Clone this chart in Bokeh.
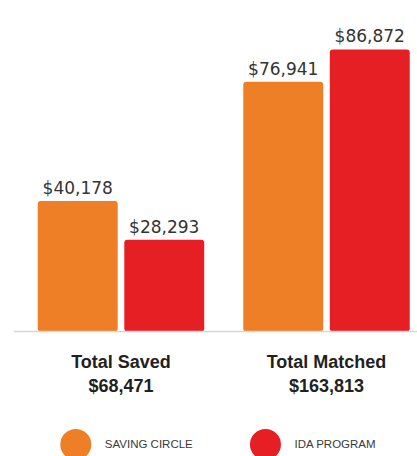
from bokeh.plotting import figure
from bokeh.models import Range1d, Span, ColumnDataSource
from bokeh.transform import dodge
from bokeh.core.properties import value
from bokeh.embed import file_html
from bokeh.resources import INLINE

# ---- data ----
categories = ["Total Saved", "Total Matched"]
totals = ["$68,471", "$163,813"]
saving_circle = [40178, 76941]
ida_program = [28293, 86872]
series_names = ["SAVING CIRCLE", "IDA PROGRAM"]
series_colors = ["#EE7F27", "#E61F25"]

def money(v):
    return "${:,}".format(v)

src = ColumnDataSource(dict(
    x=list(range(len(categories))),
    cat=categories,
    total=totals,
    saving=saving_circle,
    ida=ida_program,
    saving_lbl=[money(v) for v in saving_circle],
    ida_lbl=[money(v) for v in ida_program],
))

# scale: ~0.0032467 px per dollar, baseline at y 331
px_per_unit = 0.0032467
W, H = 417, 456
y_top = 331 / px_per_unit
y_bot = -(H - 331) / px_per_unit

p = figure(width=W, height=H, output_backend="svg", toolbar_location=None,
           x_range=Range1d(-0.5231, 1.4428), y_range=Range1d(y_bot, y_top),
           x_axis_type=None, y_axis_type=None, min_border=0, min_border_left=13)
p.outline_line_color = None
p.grid.visible = False
p.background_fill_color = "white"
p.border_fill_color = "white"

off = 0.2105
bw = 0.389
p.vbar(x=dodge("x", -off, range=p.x_range), top="saving", width=bw, bottom=0,
       source=src, fill_color=series_colors[0], line_color=None, border_radius=3)
p.vbar(x=dodge("x", off, range=p.x_range), top="ida", width=bw, bottom=0,
       source=src, fill_color=series_colors[1], line_color=None, border_radius=3)

p.add_layout(Span(location=0, dimension="width", line_color="#d6d6d6", line_width=1.5))

lbl_font = value("DejaVu Sans")
for col, lab, dx in (("saving", "saving_lbl", -off), ("ida", "ida_lbl", off)):
    p.text(x=dodge("x", dx, range=p.x_range), y=col, text=lab, source=src,
           text_align="center", text_baseline="alphabetic", y_offset=-13,
           text_font=lbl_font, text_font_size="17px", text_color="#333333")

cat_font = value("Liberation Sans")
p.text(x="x", y=0, text="cat", source=src, text_align="center", text_baseline="alphabetic",
       y_offset=30, text_font=cat_font, text_font_style="bold", text_font_size="18px",
       text_color="#231f20")
p.text(x="x", y=0, text="total", source=src, text_align="center", text_baseline="alphabetic",
       y_offset=54, text_font=cat_font, text_font_style="bold", text_font_size="18px",
       text_color="#231f20")

# legend (layout positions)
leg = ColumnDataSource(dict(x=[-0.22, 0.703], y=[-34800, -34800],
                            name=series_names, color=series_colors))
p.scatter(x="x", y="y", size=31, marker="circle", fill_color="color", line_color=None, source=leg)
p.text(x="x", y="y", text="name", source=leg, x_offset=29, text_align="left",
       text_baseline="middle", text_font=cat_font, text_font_size="11.5px", text_color="#3a3a3a")

open("out.html", "w").write(file_html(p, INLINE))
